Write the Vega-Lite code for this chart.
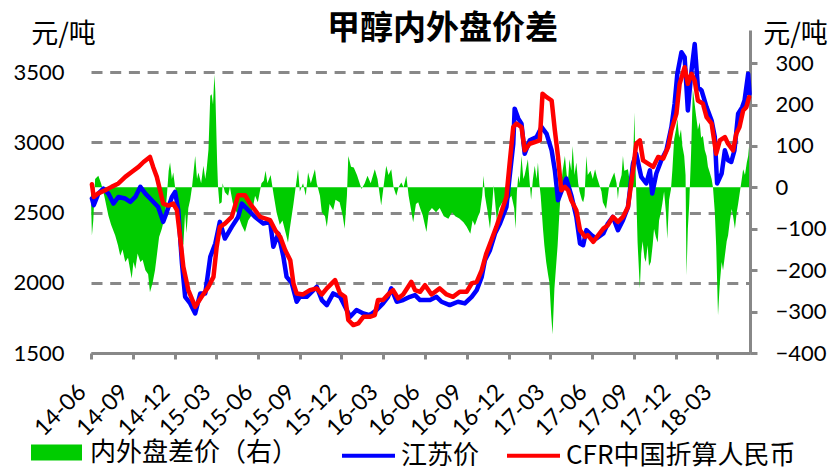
{
  "$schema": "https://vega.github.io/schema/vega-lite/v6.json",
  "width": 659,
  "height": 323,
  "autosize": {"type": "none"},
  "padding": {"left": 91, "top": 30, "right": 83, "bottom": 117},
  "background": "#ffffff",
  "config": {
    "view": {"stroke": null},
    "axis": {"labelFont": "Lato", "labelColor": "#000000", "titleColor": "#000000"}
  },
  "title": {"text": "甲醇内外盘价差", "font": "Noto Sans CJK SC", "fontSize": 33, "fontWeight": "bold", "color": "#000000", "anchor": "middle", "frame": "group", "dx": 22, "offset": -59, "baseline": "bottom"},
  "datasets": {
    "spread": [
      {"d":"2014-06-01","v":-30},{"d":"2014-06-03","v":-116},{"d":"2014-06-06","v":-80},{"d":"2014-06-10","v":20},{"d":"2014-06-17","v":28},{"d":"2014-06-23","v":10},{"d":"2014-06-30","v":-20},{"d":"2014-07-09","v":-68},{"d":"2014-07-15","v":-90},{"d":"2014-07-24","v":-116},{"d":"2014-07-30","v":-140},{"d":"2014-08-04","v":-165},{"d":"2014-08-09","v":-150},{"d":"2014-08-15","v":-180},{"d":"2014-08-21","v":-170},{"d":"2014-08-29","v":-220},{"d":"2014-09-02","v":-180},{"d":"2014-09-06","v":-197},{"d":"2014-09-11","v":-160},{"d":"2014-09-17","v":-180},{"d":"2014-09-22","v":-175},{"d":"2014-09-28","v":-200},{"d":"2014-10-04","v":-210},{"d":"2014-10-08","v":-253},{"d":"2014-10-14","v":-230},{"d":"2014-10-19","v":-200},{"d":"2014-10-23","v":-165},{"d":"2014-10-28","v":-120},{"d":"2014-11-03","v":-100},{"d":"2014-11-10","v":-68},{"d":"2014-11-14","v":-20},{"d":"2014-11-18","v":40},{"d":"2014-11-21","v":60},{"d":"2014-11-25","v":20},{"d":"2014-11-28","v":36},{"d":"2014-12-02","v":0},{"d":"2014-12-06","v":-20},{"d":"2014-12-10","v":-60},{"d":"2014-12-13","v":-100},{"d":"2014-12-20","v":-140},{"d":"2014-12-24","v":-60},{"d":"2014-12-27","v":-110},{"d":"2014-12-31","v":-50},
      {"d":"2015-01-04","v":-30},{"d":"2015-01-08","v":0},{"d":"2015-01-15","v":76},{"d":"2015-01-19","v":20},{"d":"2015-01-22","v":36},{"d":"2015-01-28","v":10},{"d":"2015-02-02","v":52},{"d":"2015-02-06","v":20},{"d":"2015-02-09","v":44},{"d":"2015-02-13","v":90},{"d":"2015-02-17","v":221},{"d":"2015-02-20","v":225},{"d":"2015-02-23","v":200},{"d":"2015-02-26","v":272},{"d":"2015-02-28","v":232},{"d":"2015-03-04","v":60},{"d":"2015-03-06","v":0},{"d":"2015-03-09","v":-40},{"d":"2015-03-14","v":-36},{"d":"2015-03-16","v":10},{"d":"2015-03-21","v":-12},{"d":"2015-03-28","v":-20},{"d":"2015-04-01","v":0},{"d":"2015-04-07","v":-36},{"d":"2015-04-11","v":-50},{"d":"2015-04-19","v":-68},{"d":"2015-04-27","v":-92},{"d":"2015-05-04","v":-108},{"d":"2015-05-11","v":-80},{"d":"2015-05-18","v":-68},{"d":"2015-05-26","v":-20},{"d":"2015-06-01","v":-36},{"d":"2015-06-09","v":10},{"d":"2015-06-14","v":16},{"d":"2015-06-18","v":40},{"d":"2015-06-22","v":10},{"d":"2015-06-29","v":30},{"d":"2015-07-06","v":-20},{"d":"2015-07-12","v":-60},{"d":"2015-07-19","v":-90},{"d":"2015-07-25","v":-80},{"d":"2015-08-01","v":-110},{"d":"2015-08-06","v":-133},{"d":"2015-08-10","v":-100},{"d":"2015-08-18","v":-40},{"d":"2015-08-24","v":10},{"d":"2015-08-28","v":44},{"d":"2015-09-01","v":-10},{"d":"2015-09-08","v":10},{"d":"2015-09-14","v":-20},{"d":"2015-09-19","v":36},{"d":"2015-09-25","v":10},{"d":"2015-10-04","v":44},{"d":"2015-10-08","v":10},{"d":"2015-10-15","v":-20},{"d":"2015-10-19","v":-60},{"d":"2015-10-26","v":-70},{"d":"2015-10-30","v":-96},{"d":"2015-11-05","v":-40},{"d":"2015-11-13","v":-55},{"d":"2015-11-18","v":-30},{"d":"2015-11-27","v":-36},{"d":"2015-12-04","v":-70},{"d":"2015-12-08","v":-100},{"d":"2015-12-13","v":-20},{"d":"2015-12-16","v":76},{"d":"2015-12-22","v":50},{"d":"2015-12-28","v":48},
      {"d":"2016-01-04","v":30},{"d":"2016-01-14","v":-4},{"d":"2016-01-21","v":10},{"d":"2016-01-27","v":28},{"d":"2016-02-03","v":10},{"d":"2016-02-12","v":44},{"d":"2016-02-18","v":20},{"d":"2016-02-26","v":-44},{"d":"2016-03-02","v":0},{"d":"2016-03-08","v":52},{"d":"2016-03-13","v":30},{"d":"2016-03-19","v":44},{"d":"2016-03-24","v":0},{"d":"2016-03-30","v":-20},{"d":"2016-04-04","v":0},{"d":"2016-04-10","v":12},{"d":"2016-04-15","v":0},{"d":"2016-04-21","v":28},{"d":"2016-04-26","v":-20},{"d":"2016-05-06","v":-84},{"d":"2016-05-12","v":-40},{"d":"2016-05-17","v":-36},{"d":"2016-05-21","v":-50},{"d":"2016-05-27","v":-68},{"d":"2016-06-04","v":-108},{"d":"2016-06-09","v":-60},{"d":"2016-06-16","v":-50},{"d":"2016-06-25","v":-60},{"d":"2016-07-03","v":-50},{"d":"2016-07-12","v":-70},{"d":"2016-07-22","v":-76},{"d":"2016-07-30","v":-60},{"d":"2016-08-06","v":-70},{"d":"2016-08-15","v":-75},{"d":"2016-08-24","v":-84},{"d":"2016-08-31","v":-95},{"d":"2016-09-08","v":-112},{"d":"2016-09-13","v":-80},{"d":"2016-09-18","v":-92},{"d":"2016-09-25","v":-70},{"d":"2016-09-29","v":-60},{"d":"2016-10-04","v":-20},{"d":"2016-10-07","v":28},{"d":"2016-10-10","v":-20},{"d":"2016-10-16","v":-60},{"d":"2016-10-21","v":-100},{"d":"2016-10-26","v":-40},{"d":"2016-10-29","v":5},{"d":"2016-11-05","v":-80},{"d":"2016-11-10","v":-50},{"d":"2016-11-17","v":-36},{"d":"2016-11-23","v":-40},{"d":"2016-11-30","v":-30},{"d":"2016-12-07","v":-20},{"d":"2016-12-13","v":-50},{"d":"2016-12-16","v":-100},{"d":"2016-12-19","v":-10},{"d":"2016-12-22","v":28},{"d":"2016-12-25","v":10},{"d":"2016-12-29","v":76},
      {"d":"2017-01-02","v":20},{"d":"2017-01-05","v":30},{"d":"2017-01-12","v":68},{"d":"2017-01-16","v":10},{"d":"2017-01-19","v":-30},{"d":"2017-01-23","v":20},{"d":"2017-01-27","v":52},{"d":"2017-01-31","v":20},{"d":"2017-02-03","v":60},{"d":"2017-02-06","v":10},{"d":"2017-02-09","v":-20},{"d":"2017-02-14","v":-100},{"d":"2017-02-17","v":-140},{"d":"2017-02-21","v":-180},{"d":"2017-02-25","v":-210},{"d":"2017-02-28","v":-229},{"d":"2017-03-04","v":-309},{"d":"2017-03-07","v":-355},{"d":"2017-03-11","v":-245},{"d":"2017-03-14","v":-200},{"d":"2017-03-18","v":-141},{"d":"2017-03-22","v":-60},{"d":"2017-03-25","v":-10},{"d":"2017-03-29","v":40},{"d":"2017-04-03","v":76},{"d":"2017-04-07","v":30},{"d":"2017-04-10","v":20},{"d":"2017-04-13","v":68},{"d":"2017-04-17","v":40},{"d":"2017-04-20","v":100},{"d":"2017-04-24","v":30},{"d":"2017-04-28","v":60},{"d":"2017-05-02","v":10},{"d":"2017-05-05","v":-10},{"d":"2017-05-10","v":-30},{"d":"2017-05-13","v":-36},{"d":"2017-05-16","v":-20},{"d":"2017-05-20","v":76},{"d":"2017-05-23","v":30},{"d":"2017-05-29","v":40},{"d":"2017-06-03","v":20},{"d":"2017-06-08","v":44},{"d":"2017-06-12","v":25},{"d":"2017-06-19","v":0},{"d":"2017-06-22","v":-10},{"d":"2017-06-25","v":-36},{"d":"2017-07-02","v":-52},{"d":"2017-07-06","v":-20},{"d":"2017-07-09","v":5},{"d":"2017-07-14","v":20},{"d":"2017-07-20","v":36},{"d":"2017-07-25","v":10},{"d":"2017-07-28","v":-28},{"d":"2017-07-31","v":10},{"d":"2017-08-05","v":30},{"d":"2017-08-08","v":76},{"d":"2017-08-11","v":40},{"d":"2017-08-19","v":44},{"d":"2017-08-22","v":20},{"d":"2017-08-26","v":60},{"d":"2017-08-30","v":40},{"d":"2017-09-02","v":181},{"d":"2017-09-05","v":30},{"d":"2017-09-09","v":-133},{"d":"2017-09-14","v":-245},{"d":"2017-09-17","v":-160},{"d":"2017-09-20","v":-130},{"d":"2017-09-24","v":-170},{"d":"2017-09-27","v":-180},{"d":"2017-10-01","v":-140},{"d":"2017-10-04","v":-190},{"d":"2017-10-08","v":-180},{"d":"2017-10-12","v":-140},{"d":"2017-10-15","v":-100},{"d":"2017-10-19","v":-120},{"d":"2017-10-23","v":-133},{"d":"2017-10-26","v":-80},{"d":"2017-10-30","v":-60},{"d":"2017-11-02","v":-40},{"d":"2017-11-06","v":-10},{"d":"2017-11-10","v":-60},{"d":"2017-11-13","v":-124},{"d":"2017-11-17","v":-30},{"d":"2017-11-21","v":-5},{"d":"2017-11-24","v":40},{"d":"2017-11-28","v":116},{"d":"2017-12-02","v":140},{"d":"2017-12-05","v":165},{"d":"2017-12-09","v":120},{"d":"2017-12-13","v":140},{"d":"2017-12-16","v":100},{"d":"2017-12-20","v":76},{"d":"2017-12-23","v":30},{"d":"2017-12-25","v":-213},{"d":"2017-12-28","v":-100},{"d":"2017-12-31","v":-40},
      {"d":"2018-01-04","v":80},{"d":"2018-01-08","v":237},{"d":"2018-01-12","v":200},{"d":"2018-01-15","v":173},{"d":"2018-01-19","v":140},{"d":"2018-01-23","v":157},{"d":"2018-01-26","v":120},{"d":"2018-01-30","v":124},{"d":"2018-02-03","v":90},{"d":"2018-02-07","v":76},{"d":"2018-02-10","v":50},{"d":"2018-02-14","v":36},{"d":"2018-02-18","v":20},{"d":"2018-02-21","v":0},{"d":"2018-02-25","v":-60},{"d":"2018-02-28","v":-141},{"d":"2018-03-04","v":-309},{"d":"2018-03-08","v":-230},{"d":"2018-03-12","v":-180},{"d":"2018-03-15","v":-200},{"d":"2018-03-19","v":-165},{"d":"2018-03-23","v":-130},{"d":"2018-03-26","v":-116},{"d":"2018-03-30","v":-80},{"d":"2018-04-03","v":-52},{"d":"2018-04-06","v":-70},{"d":"2018-04-10","v":-100},{"d":"2018-04-14","v":-60},{"d":"2018-04-17","v":-40},{"d":"2018-04-21","v":-10},{"d":"2018-04-25","v":20},{"d":"2018-04-28","v":44},{"d":"2018-05-02","v":30},{"d":"2018-05-06","v":60},{"d":"2018-05-09","v":76},{"d":"2018-05-11","v":100}
    ],
    "js": [
      {"d":"2014-06-03","v":2600},{"d":"2014-06-07","v":2552},{"d":"2014-06-17","v":2635},{"d":"2014-06-28","v":2671},{"d":"2014-07-09","v":2635},{"d":"2014-07-20","v":2564},{"d":"2014-07-31","v":2611},{"d":"2014-08-15","v":2600},{"d":"2014-08-26","v":2576},{"d":"2014-09-06","v":2611},{"d":"2014-09-17","v":2683},{"d":"2014-09-28","v":2635},{"d":"2014-10-12","v":2588},{"d":"2014-10-26","v":2540},{"d":"2014-11-06","v":2434},{"d":"2014-11-14","v":2505},{"d":"2014-11-25","v":2611},{"d":"2014-12-02","v":2647},{"d":"2014-12-09","v":2517},{"d":"2014-12-17","v":2138},{"d":"2014-12-24","v":1900},
      {"d":"2015-01-04","v":1853},{"d":"2015-01-15","v":1782},{"d":"2015-01-26","v":1924},{"d":"2015-02-06","v":1924},{"d":"2015-02-17","v":2185},{"d":"2015-02-28","v":2280},{"d":"2015-03-10","v":2434},{"d":"2015-03-21","v":2315},{"d":"2015-04-05","v":2398},{"d":"2015-04-19","v":2469},{"d":"2015-04-27","v":2564},{"d":"2015-05-11","v":2517},{"d":"2015-05-26","v":2469},{"d":"2015-06-13","v":2422},{"d":"2015-06-28","v":2434},{"d":"2015-07-05","v":2256},{"d":"2015-07-16","v":2351},{"d":"2015-07-27","v":2185},{"d":"2015-08-03","v":2042},{"d":"2015-08-14","v":2000},{"d":"2015-08-25","v":1865},{"d":"2015-09-01","v":1900},{"d":"2015-09-16","v":1900},{"d":"2015-10-08","v":1971},{"d":"2015-10-19","v":1877},{"d":"2015-10-30","v":1841},{"d":"2015-11-13","v":1924},{"d":"2015-11-28","v":1900},{"d":"2015-12-09","v":1829},{"d":"2015-12-20","v":1758},
      {"d":"2016-01-03","v":1806},{"d":"2016-01-18","v":1782},{"d":"2016-02-01","v":1770},{"d":"2016-02-16","v":1806},{"d":"2016-03-01","v":1853},{"d":"2016-03-12","v":1900},{"d":"2016-03-19","v":1960},{"d":"2016-03-31","v":1865},{"d":"2016-04-14","v":1877},{"d":"2016-04-29","v":1900},{"d":"2016-05-10","v":1912},{"d":"2016-05-21","v":1877},{"d":"2016-06-12","v":1877},{"d":"2016-06-26","v":1900},{"d":"2016-07-07","v":1865},{"d":"2016-07-25","v":1841},{"d":"2016-08-12","v":1865},{"d":"2016-08-27","v":1853},{"d":"2016-09-11","v":1900},{"d":"2016-09-22","v":1948},{"d":"2016-10-03","v":2042},{"d":"2016-10-10","v":2161},{"d":"2016-10-21","v":2232},{"d":"2016-11-01","v":2351},{"d":"2016-11-12","v":2422},{"d":"2016-11-26","v":2540},{"d":"2016-12-03","v":2754},{"d":"2016-12-11","v":2990},{"d":"2016-12-14","v":3240},{"d":"2016-12-22","v":3169},{"d":"2016-12-29","v":3133},
      {"d":"2017-01-05","v":2919},{"d":"2017-01-16","v":3014},{"d":"2017-01-31","v":3038},{"d":"2017-02-11","v":3109},{"d":"2017-02-22","v":3061},{"d":"2017-03-05","v":2943},{"d":"2017-03-12","v":2801},{"d":"2017-03-19","v":2588},{"d":"2017-03-30","v":2683},{"d":"2017-04-06","v":2742},{"d":"2017-04-17","v":2623},{"d":"2017-04-28","v":2469},{"d":"2017-05-06","v":2280},{"d":"2017-05-13","v":2268},{"d":"2017-05-20","v":2375},{"d":"2017-05-31","v":2339},{"d":"2017-06-11","v":2315},{"d":"2017-06-26","v":2351},{"d":"2017-07-06","v":2422},{"d":"2017-07-17","v":2469},{"d":"2017-07-28","v":2375},{"d":"2017-08-08","v":2446},{"d":"2017-08-19","v":2540},{"d":"2017-08-30","v":2849},{"d":"2017-09-06","v":2919},{"d":"2017-09-17","v":2754},{"d":"2017-09-28","v":2707},{"d":"2017-10-06","v":2801},{"d":"2017-10-11","v":2635},{"d":"2017-10-20","v":2778},{"d":"2017-10-31","v":2872},{"d":"2017-11-11","v":2943},{"d":"2017-11-22","v":3109},{"d":"2017-11-29","v":3275},{"d":"2017-12-05","v":3488},{"d":"2017-12-14","v":3642},{"d":"2017-12-21","v":3606},{"d":"2017-12-28","v":3227},
      {"d":"2018-01-05","v":3511},{"d":"2018-01-12","v":3701},{"d":"2018-01-19","v":3393},{"d":"2018-01-27","v":3369},{"d":"2018-02-07","v":3251},{"d":"2018-02-18","v":3156},{"d":"2018-02-25","v":3038},{"d":"2018-03-02","v":2707},{"d":"2018-03-12","v":2778},{"d":"2018-03-19","v":2943},{"d":"2018-03-26","v":2872},{"d":"2018-04-02","v":2860},{"d":"2018-04-09","v":2943},{"d":"2018-04-17","v":3204},{"d":"2018-04-26","v":3251},{"d":"2018-05-01","v":3298},{"d":"2018-05-09","v":3488},{"d":"2018-05-12","v":3346}
    ],
    "cfr": [
      {"d":"2014-06-03","v":2701},{"d":"2014-06-07","v":2611},{"d":"2014-06-17","v":2637},{"d":"2014-07-02","v":2659},{"d":"2014-07-16","v":2683},{"d":"2014-07-31","v":2707},{"d":"2014-08-15","v":2754},{"d":"2014-08-29","v":2789},{"d":"2014-09-13","v":2825},{"d":"2014-09-24","v":2860},{"d":"2014-10-08","v":2896},{"d":"2014-10-15","v":2825},{"d":"2014-10-23","v":2754},{"d":"2014-10-30","v":2659},{"d":"2014-11-06","v":2564},{"d":"2014-11-17","v":2550},{"d":"2014-11-28","v":2564},{"d":"2014-12-06","v":2517},{"d":"2014-12-13","v":2327},{"d":"2014-12-20","v":2114},{"d":"2014-12-31","v":1948},
      {"d":"2015-01-15","v":1829},{"d":"2015-01-29","v":1900},{"d":"2015-02-13","v":1971},{"d":"2015-02-24","v":2042},{"d":"2015-03-03","v":2256},{"d":"2015-03-10","v":2398},{"d":"2015-03-21","v":2422},{"d":"2015-04-05","v":2469},{"d":"2015-04-19","v":2623},{"d":"2015-05-04","v":2623},{"d":"2015-05-15","v":2564},{"d":"2015-06-06","v":2469},{"d":"2015-06-28","v":2446},{"d":"2015-07-09","v":2375},{"d":"2015-07-20","v":2327},{"d":"2015-07-31","v":2232},{"d":"2015-08-11","v":2161},{"d":"2015-08-18","v":1995},{"d":"2015-08-25","v":1924},{"d":"2015-09-08","v":1917},{"d":"2015-09-23","v":1948},{"d":"2015-10-08","v":1960},{"d":"2015-10-19","v":1917},{"d":"2015-10-30","v":1960},{"d":"2015-11-17","v":2019},{"d":"2015-11-28","v":1924},{"d":"2015-12-09","v":1900},{"d":"2015-12-16","v":1735},{"d":"2015-12-27","v":1699},
      {"d":"2016-01-07","v":1711},{"d":"2016-01-18","v":1758},{"d":"2016-02-01","v":1758},{"d":"2016-02-12","v":1770},{"d":"2016-02-19","v":1877},{"d":"2016-03-01","v":1877},{"d":"2016-03-12","v":1917},{"d":"2016-03-23","v":1948},{"d":"2016-04-03","v":1889},{"d":"2016-04-14","v":1917},{"d":"2016-04-25","v":1971},{"d":"2016-05-02","v":2007},{"d":"2016-05-10","v":1948},{"d":"2016-05-21","v":1936},{"d":"2016-06-01","v":1983},{"d":"2016-06-15","v":1917},{"d":"2016-07-03","v":1960},{"d":"2016-07-18","v":1917},{"d":"2016-08-01","v":1900},{"d":"2016-08-16","v":1936},{"d":"2016-08-31","v":1936},{"d":"2016-09-11","v":1995},{"d":"2016-09-22","v":2007},{"d":"2016-10-03","v":2090},{"d":"2016-10-13","v":2209},{"d":"2016-10-24","v":2303},{"d":"2016-11-04","v":2398},{"d":"2016-11-15","v":2505},{"d":"2016-11-26","v":2611},{"d":"2016-12-03","v":2849},{"d":"2016-12-11","v":3109},{"d":"2016-12-18","v":3133},{"d":"2016-12-29","v":3109},
      {"d":"2017-01-05","v":2943},{"d":"2017-01-16","v":2990},{"d":"2017-01-27","v":3002},{"d":"2017-02-07","v":3014},{"d":"2017-02-13","v":3346},{"d":"2017-02-22","v":3322},{"d":"2017-03-05","v":3298},{"d":"2017-03-12","v":3085},{"d":"2017-03-19","v":2896},{"d":"2017-03-26","v":2659},{"d":"2017-04-03","v":2683},{"d":"2017-04-10","v":2659},{"d":"2017-04-17","v":2588},{"d":"2017-04-28","v":2517},{"d":"2017-05-06","v":2375},{"d":"2017-05-17","v":2327},{"d":"2017-05-23","v":2339},{"d":"2017-06-04","v":2292},{"d":"2017-06-15","v":2339},{"d":"2017-06-26","v":2386},{"d":"2017-07-06","v":2410},{"d":"2017-07-17","v":2469},{"d":"2017-07-28","v":2434},{"d":"2017-08-08","v":2469},{"d":"2017-08-19","v":2540},{"d":"2017-08-30","v":2801},{"d":"2017-09-06","v":2990},{"d":"2017-09-14","v":3014},{"d":"2017-09-21","v":2872},{"d":"2017-10-02","v":2849},{"d":"2017-10-13","v":2825},{"d":"2017-10-24","v":2896},{"d":"2017-11-04","v":2884},{"d":"2017-11-15","v":2967},{"d":"2017-11-22","v":3085},{"d":"2017-12-03","v":3204},{"d":"2017-12-10","v":3417},{"d":"2017-12-21","v":3535},{"d":"2017-12-28","v":3417},
      {"d":"2018-01-05","v":3488},{"d":"2018-01-12","v":3440},{"d":"2018-01-19","v":3298},{"d":"2018-01-30","v":3275},{"d":"2018-02-07","v":3180},{"d":"2018-02-18","v":3133},{"d":"2018-02-28","v":2919},{"d":"2018-03-08","v":3014},{"d":"2018-03-19","v":3038},{"d":"2018-03-26","v":2990},{"d":"2018-04-06","v":2943},{"d":"2018-04-13","v":3061},{"d":"2018-04-20","v":3109},{"d":"2018-04-28","v":3227},{"d":"2018-05-05","v":3251},{"d":"2018-05-11","v":3322}
    ]
  },
  "layer": [
    {
      "data": {"name": "spread"},
      "mark": {"type": "area", "interpolate": "linear"},
      "encoding": {
        "x": {
          "field": "d", "type": "temporal",
          "scale": {"type": "utc", "domain": ["2014-06-01", "2018-05-13"]},
          "axis": {
            "title": null,
            "values": [
              {"year": 2014, "month": 6, "date": 1, "utc": true},
              {"year": 2014, "month": 9, "date": 1, "utc": true},
              {"year": 2014, "month": 12, "date": 1, "utc": true},
              {"year": 2015, "month": 3, "date": 1, "utc": true},
              {"year": 2015, "month": 6, "date": 1, "utc": true},
              {"year": 2015, "month": 9, "date": 1, "utc": true},
              {"year": 2015, "month": 12, "date": 1, "utc": true},
              {"year": 2016, "month": 3, "date": 1, "utc": true},
              {"year": 2016, "month": 6, "date": 1, "utc": true},
              {"year": 2016, "month": 9, "date": 1, "utc": true},
              {"year": 2016, "month": 12, "date": 1, "utc": true},
              {"year": 2017, "month": 3, "date": 1, "utc": true},
              {"year": 2017, "month": 6, "date": 1, "utc": true},
              {"year": 2017, "month": 9, "date": 1, "utc": true},
              {"year": 2017, "month": 12, "date": 1, "utc": true},
              {"year": 2018, "month": 3, "date": 1, "utc": true}
            ],
            "format": "%y-%m",
            "labelAngle": -45, "labelAlign": "right", "labelBaseline": "middle",
            "labelFont": "Lato", "labelFontSize": 23, "labelColor": "#000000",
            "labelPadding": 29, "labelOffset": -9, "labelOverlap": false, "labelFlush": false, "labelBound": false,
            "domainColor": "#888888", "domainWidth": 3,
            "tickColor": "#888888", "tickWidth": 3, "tickSize": 6,
            "grid": false
          }
        },
        "y": {
          "field": "v", "type": "quantitative",
          "scale": {"domain": [-400, 380], "nice": false, "zero": false},
          "axis": {
            "orient": "right",
            "values": [-400, -300, -200, -100, 0, 100, 200, 300],
            "format": "d",
            "title": "元/吨", "titleAngle": 0, "titleAlign": "center", "titleBaseline": "middle",
            "titleX": 45, "titleY": 4, "titleFont": "Noto Sans CJK SC", "titleFontSize": 27, "titleFontWeight": "normal",
            "labelFont": "Lato", "labelFontSize": 22, "labelColor": "#000000", "labelPadding": 18,
            "domainColor": "#888888", "domainWidth": 3,
            "tickColor": "#888888", "tickWidth": 3, "tickSize": 7,
            "grid": false
          }
        },
        "y2": {"datum": 0},
        "fill": {
          "datum": "内外盘差价（右）",
          "scale": {"range": ["#00cc00"]},
          "legend": {
            "orient": "none", "legendX": -60, "legendY": 397, "title": null,
            "symbolType": "M-1,-0.31H1V0.31H-1Z", "symbolSize": 2601, "symbolStrokeWidth": 0,
            "labelFont": "Noto Sans CJK SC", "labelFontSize": 26, "labelColor": "#000000", "labelOffset": 8, "labelLimit": 400
          }
        }
      }
    },
    {
      "layer": [
        {
          "data": {"name": "js"},
          "mark": {"type": "line", "strokeWidth": 4.5, "strokeJoin": "round", "strokeCap": "round"},
          "encoding": {
            "x": {"field": "d", "type": "temporal"},
            "y": {
              "field": "v", "type": "quantitative",
              "scale": {"domain": [1500, 3800], "nice": false, "zero": false},
              "axis": {
                "orient": "left",
                "values": [1500, 2000, 2500, 3000, 3500],
                "format": "d",
                "title": "元/吨", "titleAngle": 0, "titleAlign": "center", "titleBaseline": "middle",
                "titleX": -28, "titleY": 4, "titleFont": "Noto Sans CJK SC", "titleFontSize": 27, "titleFontWeight": "normal",
                "labelFont": "Lato", "labelFontSize": 22, "labelColor": "#000000", "labelPadding": 27,
                "domain": false, "ticks": false, "tickSize": 0,
                "grid": true, "gridColor": "#888888", "gridWidth": 3, "gridDash": [11, 7.7]
              }
            },
            "stroke": {
              "datum": "江苏价",
              "scale": {"domain": ["江苏价", "CFR中国折算人民币"], "range": ["#0000ff", "#ff0000"]},
              "legend": {
                "orient": "none", "legendX": 249, "legendY": 397, "title": null, "direction": "horizontal",
                "symbolType": "stroke", "symbolSize": 2809, "symbolStrokeWidth": 4,
                "labelFont": "Noto Sans CJK SC", "labelFontSize": 26, "labelColor": "#000000", "labelOffset": 4,
                "columnPadding": 19, "labelLimit": 400
              }
            }
          }
        },
        {
          "data": {"name": "cfr"},
          "mark": {"type": "line", "strokeWidth": 4.5, "strokeJoin": "round", "strokeCap": "round"},
          "encoding": {
            "x": {"field": "d", "type": "temporal"},
            "y": {"field": "v", "type": "quantitative"},
            "stroke": {"datum": "CFR中国折算人民币"}
          }
        }
      ]
    }
  ],
  "resolve": {"scale": {"y": "independent"}}
}
